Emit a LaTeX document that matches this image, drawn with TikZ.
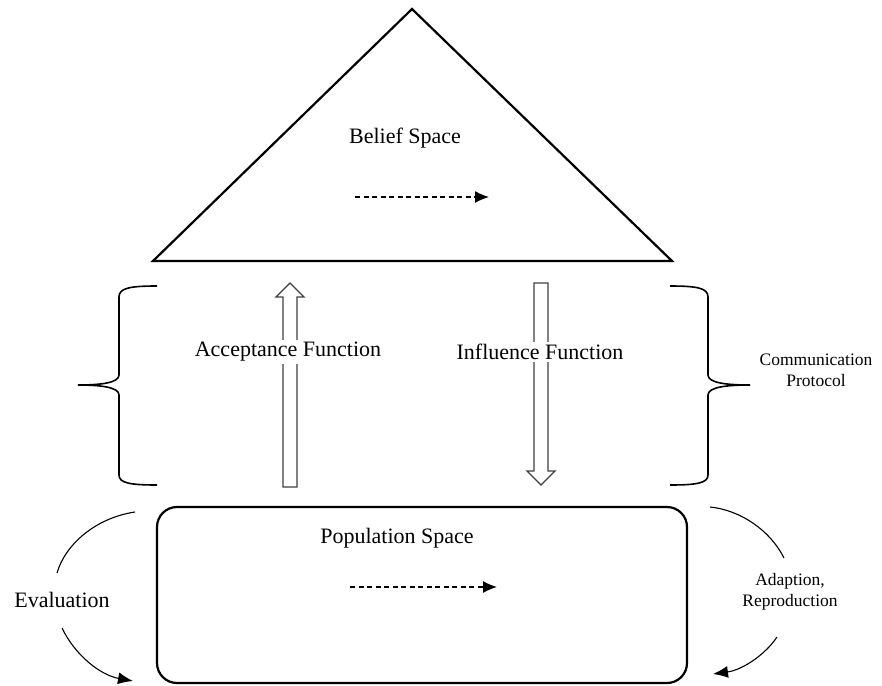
\documentclass[tikz,border=0pt]{standalone}
\usepackage{fontspec}
\setmainfont{Liberation Serif}
\newfontfamily\tnr{Liberation Serif}
\usetikzlibrary{arrows.meta}
\begin{document}
\begin{tikzpicture}[x=1pt,y=-1pt,
  lbl/.style={font=\tnr\fontsize{22}{26}\selectfont, inner sep=2pt},
  smalllbl/.style={font=\tnr\fontsize{17.5}{21}\selectfont, align=center, inner sep=0pt},
  shapeline/.style={line width=2.2pt, line join=miter},
  blockarrow/.style={draw=black!75, line width=1.3pt, fill=white, line join=miter},
  bracel/.style={line width=1.6pt},
  dasharrow/.style={dash pattern=on 5pt off 3.5pt, line width=1.3pt, -{Latex[length=14pt,width=12pt]}},
  curvearrow/.style={line width=1.1pt, -{Latex[length=15pt,width=12pt]}},
  curveline/.style={line width=1.1pt}]
\useasboundingbox (0,0) rectangle (882,685);
% belief space triangle
\coordinate (apex) at (412,9);
\coordinate (bl) at (153,261);
\coordinate (br) at (672,261);
\draw[shapeline] (apex) -- (br) -- (bl) -- cycle;
\node[lbl] (belief) at (405,138) {Belief Space};
\coordinate (bsA) at (355,197);
\coordinate (bsB) at (489,197);
\draw[dasharrow] (bsA) -- (bsB);
% acceptance (up) arrow
\draw[blockarrow] (283,487) -- (283,297) -- (276,297) -- (290,283) -- (304,297) -- (297,297) -- (297,487) -- cycle;
\node[lbl, fill=white] (acc) at (288,352) {Acceptance Function};
% influence (down) arrow
\draw[blockarrow] (534,283) -- (548,283) -- (548,471) -- (555,471) -- (541,485) -- (527,471) -- (534,471) -- cycle;
\node[lbl, fill=white] (inf) at (540,352) {Influence Function};
% left brace
\draw[bracel] (157,286) .. controls (130,286) and (119,288) .. (119,297) -- (119,375)
  .. controls (119,383) and (100,385) .. (78,385)
  .. controls (100,385) and (119,387) .. (119,395) -- (119,475)
  .. controls (119,483) and (130,485) .. (157,485);
% right brace
\draw[bracel] (670,286) .. controls (697,286) and (708,288) .. (708,297) -- (708,375)
  .. controls (708,383) and (727,385) .. (750,385)
  .. controls (727,385) and (708,387) .. (708,395) -- (708,475)
  .. controls (708,483) and (697,485) .. (670,485);
\node[smalllbl] (comm) at (816,370) {Communication\\Protocol};
% population space
\node[draw, shapeline, rounded corners=20pt, minimum width=530pt, minimum height=176pt] (pop) at (422,595) {};
\node[lbl] (poptxt) at (397,538) {Population Space};
\coordinate (psA) at (350,587);
\coordinate (psB) at (497,587);
\draw[dasharrow] (psA) -- (psB);
% evaluation
\node[lbl] (eval) at (62,600) {Evaluation};
\coordinate (e1) at (135,512);
\coordinate (e2) at (57,573);
\coordinate (e3) at (62,628);
\coordinate (e4) at (133,681);
\draw[curveline] (e1) .. controls (95,518) and (65,545) .. (e2);
\draw[curvearrow] (e3) .. controls (75,655) and (100,675) .. (e4);
% adaption
\node[smalllbl] (adapt) at (790,592) {Adaption,\\Reproduction};
\coordinate (a1) at (710,507);
\coordinate (a2) at (784,558);
\coordinate (a3) at (777,637);
\coordinate (a4) at (713,674);
\draw[curveline] (a1) .. controls (740,510) and (770,530) .. (a2);
\draw[curvearrow] (a3) .. controls (765,655) and (742,670) .. (a4);
\end{tikzpicture}
\end{document}
